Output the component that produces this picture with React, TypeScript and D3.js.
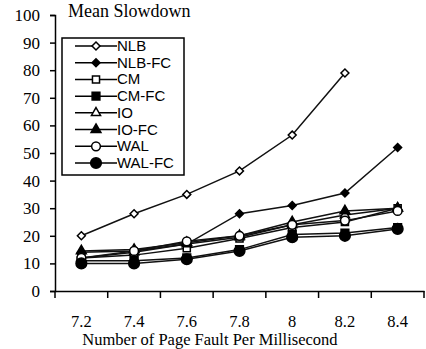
import React, { useEffect, useRef } from 'react';
import * as d3 from 'd3';

const categories = ['7.2', '7.4', '7.6', '7.8', '8', '8.2', '8.4'];
const yTicks = [0, 10, 20, 30, 40, 50, 60, 70, 80, 90, 100];

const nlb = [20, 28, 35, 43.5, 56.5, 79, null];
const nlbFc = [14, 14.5, 17, 28, 31, 35.5, 52];
const cm = [12, 13, 15.5, 19, 23, 25, 30];
const cmFc = [11, 11, 12, 15, 20.5, 21, 23];
const io = [12, 14, 17, 19.5, 24, 27.5, 30];
const ioFc = [14.5, 15, 17.5, 20, 25, 29, 30];
const wal = [12, 14.5, 18, 20, 24, 25.5, 29];
const walFc = [10, 10, 11.5, 14.5, 19.5, 20, 22.5];

type Series = { name: string; values: (number | null)[]; shape: string; filled: boolean };

const series: Series[] = [
  { name: 'NLB', values: nlb, shape: 'diamond', filled: false },
  { name: 'NLB-FC', values: nlbFc, shape: 'diamond', filled: true },
  { name: 'CM', values: cm, shape: 'square', filled: false },
  { name: 'CM-FC', values: cmFc, shape: 'square', filled: true },
  { name: 'IO', values: io, shape: 'triangle', filled: false },
  { name: 'IO-FC', values: ioFc, shape: 'triangle', filled: true },
  { name: 'WAL', values: wal, shape: 'circle', filled: false },
  { name: 'WAL-FC', values: walFc, shape: 'circle', filled: true },
];

const App = () => {
  const svgRef = useRef<SVGSVGElement>(null);

  useEffect(() => {
    const svg = d3.select(svgRef.current);
    svg.selectAll('*').remove();

    const left = 55, right = 424, top = 15, bottom = 291;
    const serif = '"Liberation Serif", "Times New Roman", serif';
    const sans = '"Liberation Sans", Arial, sans-serif';

    const x = d3.scaleBand().domain(categories).range([left, right]);
    const y = d3.scaleLinear().domain([0, 100]).range([bottom, top]);

    // Axes
    const yAxis = svg.append('g')
      .attr('transform', `translate(${left},0)`)
      .call(d3.axisLeft(y).tickValues(yTicks).tickSize(5).tickPadding(10));
    yAxis.select('.domain').attr('stroke', '#000').attr('stroke-width', 1.5);
    yAxis.selectAll('.tick line').attr('stroke', '#000').attr('stroke-width', 1.5);
    yAxis.selectAll('text').attr('font-family', serif).attr('font-size', 17).attr('fill', '#000');

    const xAxis = svg.append('g')
      .attr('transform', `translate(0,${bottom})`)
      .call(d3.axisBottom(x).tickSize(0).tickPadding(24).tickSizeOuter(0));
    xAxis.select('.domain').attr('stroke', '#000').attr('stroke-width', 1.5);
    xAxis.selectAll('text').attr('font-family', serif).attr('font-size', 16.5).attr('fill', '#000');
    const bounds = [...categories.map(c => x(c) as number), right];
    xAxis.selectAll('line.sep').data(bounds).enter().append('line')
      .attr('x1', d => d).attr('x2', d => d).attr('y1', 0).attr('y2', 7)
      .attr('stroke', '#000').attr('stroke-width', 1.5);

    svg.append('text').attr('x', 68).attr('y', 17)
      .attr('font-family', serif).attr('font-size', 18).text('Mean Slowdown');
    svg.append('text').attr('x', 210).attr('y', 345).attr('text-anchor', 'middle')
      .attr('font-family', serif).attr('font-size', 16.5).text('Number of Page Fault Per Millisecond');

    const sym = (shape: string, filled: boolean) => {
      const area: Record<string, number> = filled
        ? { diamond: 40, square: 60, triangle: 42, circle: 90 }
        : { diamond: 40, square: 50, triangle: 36, circle: 60 };
      const type = shape === 'diamond' ? d3.symbolDiamond2 : shape === 'square' ? d3.symbolSquare
        : shape === 'triangle' ? d3.symbolTriangle : d3.symbolCircle;
      return d3.symbol().type(type).size(area[shape])();
    };

    const cx = (c: string) => (x(c) as number) + x.bandwidth() / 2;
    const line = d3.line<number | null>()
      .defined(d => d !== null)
      .x((_, i) => cx(categories[i]))
      .y(d => y(d as number));

    series.forEach(s => {
      const g = svg.append('g');
      g.append('path').attr('d', line(s.values)).attr('fill', 'none')
        .attr('stroke', '#111').attr('stroke-width', 1.5);
      g.selectAll('path.m').data(s.values.map((v, i) => ({ v, c: categories[i] })).filter(d => d.v !== null))
        .enter().append('path').attr('class', 'm')
        .attr('d', sym(s.shape, s.filled))
        .attr('transform', d => `translate(${cx(d.c)},${y(d.v as number)})`)
        .attr('fill', s.filled ? '#000' : '#fff')
        .attr('stroke', '#000').attr('stroke-width', 1.5);
    });

    // Legend
    const lg = svg.append('g');
    lg.append('rect').attr('x', 62).attr('y', 38).attr('width', 122).attr('height', 137)
      .attr('fill', '#fff').attr('stroke', '#000').attr('stroke-width', 1.5);
    const ly = d3.scalePoint().domain(series.map(s => s.name)).range([46, 163]);
    series.forEach(s => {
      const yy = ly(s.name) as number;
      lg.append('line').attr('x1', 75).attr('x2', 117).attr('y1', yy).attr('y2', yy)
        .attr('stroke', '#000').attr('stroke-width', 1.5);
      lg.append('path').attr('d', sym(s.shape, s.filled))
        .attr('transform', `translate(96,${yy})`)
        .attr('fill', s.filled ? '#000' : '#fff').attr('stroke', '#000').attr('stroke-width', 1.5);
      lg.append('text').attr('x', 117).attr('y', yy + 5)
        .attr('font-family', sans).attr('font-size', 15).text(s.name);
    });
  }, []);

  return (
    <svg ref={svgRef} width={426} height={349}
      style={{ position: 'absolute', left: 0, top: 0, background: '#fff' }} />
  );
};

export default App;
